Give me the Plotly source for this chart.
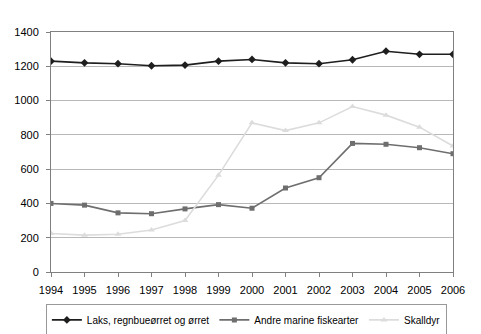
import plotly.graph_objects as go

years = list(range(1994, 2007))
laks = [1230, 1220, 1215, 1203, 1207, 1230, 1240, 1220, 1215, 1238, 1288, 1270, 1270]
andre = [400, 390, 345, 340, 368, 393, 372, 490, 550, 750, 745, 725, 690]
skalldyr = [225, 215, 220, 245, 300, 565, 870, 825, 870, 965, 915, 845, 735]
names = ["Laks, regnbueørret og ørret", "Andre marine fiskearter", "Skalldyr"]
yticks = [0, 200, 400, 600, 800, 1000, 1200, 1400]

fig = go.Figure()
fig.add_trace(go.Scatter(x=years, y=laks, name=names[0], mode="lines+markers",
                         line=dict(color="#1e1e1e", width=1.6),
                         marker=dict(symbol="diamond", size=6, color="#1e1e1e")))
fig.add_trace(go.Scatter(x=years, y=andre, name=names[1], mode="lines+markers",
                         line=dict(color="#6e6e6e", width=1.6),
                         marker=dict(symbol="square", size=5, color="#6e6e6e")))
fig.add_trace(go.Scatter(x=years, y=skalldyr, name=names[2], mode="lines+markers",
                         line=dict(color="#dcdcdc", width=1.6),
                         marker=dict(symbol="triangle-up", size=6, color="#dcdcdc")))

fig.update_layout(
    width=481, height=334,
    margin=dict(l=51, r=28, t=32, b=62, autoexpand=False),
    paper_bgcolor="white", plot_bgcolor="white",
    font=dict(family="Liberation Sans, Arial, sans-serif", size=11, color="black"),
    showlegend=True,
    legend=dict(orientation="h", x=0.486, xanchor="center", y=-0.135, yanchor="top",
                bordercolor="#999999", borderwidth=1, font=dict(size=10),
                itemwidth=30, tracegroupgap=0, valign="middle"),
)
fig.update_xaxes(range=[1994, 2006], tickmode="array", tickvals=years,
                 ticktext=[str(y) for y in years], showgrid=False,
                 showline=True, linecolor="#808080", linewidth=1, mirror=True,
                 ticks="outside", ticklen=4, tickcolor="#808080", zeroline=False,
                 ticklabelstandoff=4)
fig.update_yaxes(range=[0, 1400], tickmode="array", tickvals=yticks,
                 showgrid=True, gridcolor="#b8b8b8", gridwidth=1,
                 showline=True, linecolor="#808080", linewidth=1, mirror=True,
                 ticks="outside", ticklen=4, tickcolor="#808080", zeroline=False,
                 ticklabelstandoff=5)

fig.write_html("out.html")
